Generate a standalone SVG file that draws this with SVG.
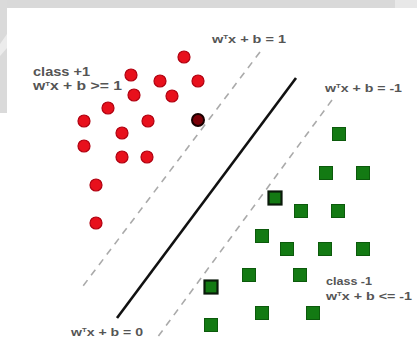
<svg xmlns="http://www.w3.org/2000/svg" width="417" height="341" viewBox="0 0 417 341">
<style>
.red{fill:#e8101c;stroke:#b00010;stroke-width:1.2}
.redsv{fill:#7a0008;stroke:#1a0000;stroke-width:2}
.grn{fill:#137a13;stroke:#0c5a0c;stroke-width:1}
.grnsv{fill:#137a13;stroke:#0a1a0a;stroke-width:2.2}
.lbl{font-family:"Liberation Sans",Arial,sans-serif;font-size:11px;fill:#555;font-weight:bold}
.big{font-size:12px}
.sup{font-size:6px}
.dash{stroke:#aaaaaa;stroke-width:1.6;stroke-dasharray:7 6;fill:none}
.solid{stroke:#111;stroke-width:2.6;fill:none}
</style>
<rect x="0" y="0" width="417" height="341" fill="#ffffff"/>
<g id="background">
<rect x="0" y="0" width="417" height="8" fill="#d9d9d9"/>
<rect x="0" y="0" width="7" height="113" fill="#dadada"/>
<polygon points="0,44 7,34 7,48 0,56" fill="#ececec"/>
<rect x="395" y="0" width="22" height="8" fill="#e8e8e8"/>
</g>
<g id="connectors">
<line class="dash" x1="260" y1="52" x2="80" y2="290"/>
<line class="solid" x1="296" y1="78" x2="117" y2="318"/>
<line class="dash" x1="332" y1="100" x2="157" y2="338"/>
</g>
<g id="class-plus">
<g id="p1"><circle class="red" cx="184" cy="57" r="6"/></g>
<g id="p2"><circle class="red" cx="131" cy="75" r="6"/></g>
<g id="p3"><circle class="red" cx="160" cy="81" r="6"/></g>
<g id="p4"><circle class="red" cx="198" cy="81" r="6"/></g>
<g id="p5"><circle class="red" cx="134" cy="95" r="6"/></g>
<g id="p6"><circle class="red" cx="172" cy="96" r="6"/></g>
<g id="p7"><circle class="red" cx="108" cy="108" r="6"/></g>
<g id="p8"><circle class="red" cx="84" cy="121" r="6"/></g>
<g id="p9"><circle class="red" cx="148" cy="121" r="6"/></g>
<g id="p10"><circle class="redsv" cx="198" cy="120" r="6"/></g>
<g id="p11"><circle class="red" cx="122" cy="133" r="6"/></g>
<g id="p12"><circle class="red" cx="84" cy="146" r="6"/></g>
<g id="p13"><circle class="red" cx="122" cy="157" r="6"/></g>
<g id="p14"><circle class="red" cx="147" cy="157" r="6"/></g>
<g id="p15"><circle class="red" cx="96" cy="185" r="6"/></g>
<g id="p16"><circle class="red" cx="96" cy="223" r="6"/></g>
</g>
<g id="class-minus">
<g id="n1"><rect class="grn" x="332.5" y="127.5" width="13" height="13"/></g>
<g id="n2"><rect class="grn" x="319.5" y="166.5" width="13" height="13"/></g>
<g id="n3"><rect class="grn" x="356.5" y="166.5" width="13" height="13"/></g>
<g id="n4"><rect class="grnsv" x="268.5" y="191.5" width="13" height="13"/></g>
<g id="n5"><rect class="grn" x="294.5" y="204.5" width="13" height="13"/></g>
<g id="n6"><rect class="grn" x="331.5" y="204.5" width="13" height="13"/></g>
<g id="n7"><rect class="grn" x="255.5" y="229.5" width="13" height="13"/></g>
<g id="n8"><rect class="grn" x="280.5" y="242.5" width="13" height="13"/></g>
<g id="n9"><rect class="grn" x="318.5" y="242.5" width="13" height="13"/></g>
<g id="n10"><rect class="grn" x="356.5" y="242.5" width="13" height="13"/></g>
<g id="n11"><rect class="grn" x="242.5" y="268.5" width="13" height="13"/></g>
<g id="n12"><rect class="grn" x="293.5" y="268.5" width="13" height="13"/></g>
<g id="n13"><rect class="grnsv" x="204.5" y="280.5" width="13" height="13"/></g>
<g id="n14"><rect class="grn" x="255.5" y="306.5" width="13" height="13"/></g>
<g id="n15"><rect class="grn" x="306.5" y="306.5" width="13" height="13"/></g>
<g id="n16"><rect class="grn" x="204.5" y="318.5" width="13" height="13"/></g>
</g>
<g id="labels">
<g id="lbl-plus">
<text class="lbl big" x="33" y="76" textLength="57" lengthAdjust="spacingAndGlyphs">class +1</text>
<text class="lbl big" x="33" y="90" textLength="89" lengthAdjust="spacingAndGlyphs">w<tspan class="sup" dy="-4">T</tspan><tspan dy="4">x + b &gt;= 1</tspan></text>
</g>
<g id="lbl-margin1"><text class="lbl" x="212" y="43" textLength="74" lengthAdjust="spacingAndGlyphs">w<tspan class="sup" dy="-4">T</tspan><tspan dy="4">x + b = 1</tspan></text></g>
<g id="lbl-marginm1"><text class="lbl" x="325" y="92" textLength="77" lengthAdjust="spacingAndGlyphs">w<tspan class="sup" dy="-4">T</tspan><tspan dy="4">x + b = -1</tspan></text></g>
<g id="lbl-boundary"><text class="lbl" x="71" y="336" textLength="72" lengthAdjust="spacingAndGlyphs">w<tspan class="sup" dy="-4">T</tspan><tspan dy="4">x + b = 0</tspan></text></g>
<g id="lbl-minus">
<text class="lbl" x="326" y="285" textLength="46" lengthAdjust="spacingAndGlyphs">class -1</text>
<text class="lbl" x="326" y="300" textLength="86" lengthAdjust="spacingAndGlyphs">w<tspan class="sup" dy="-4">T</tspan><tspan dy="4">x + b &lt;= -1</tspan></text>
</g>
</g>
</svg>
